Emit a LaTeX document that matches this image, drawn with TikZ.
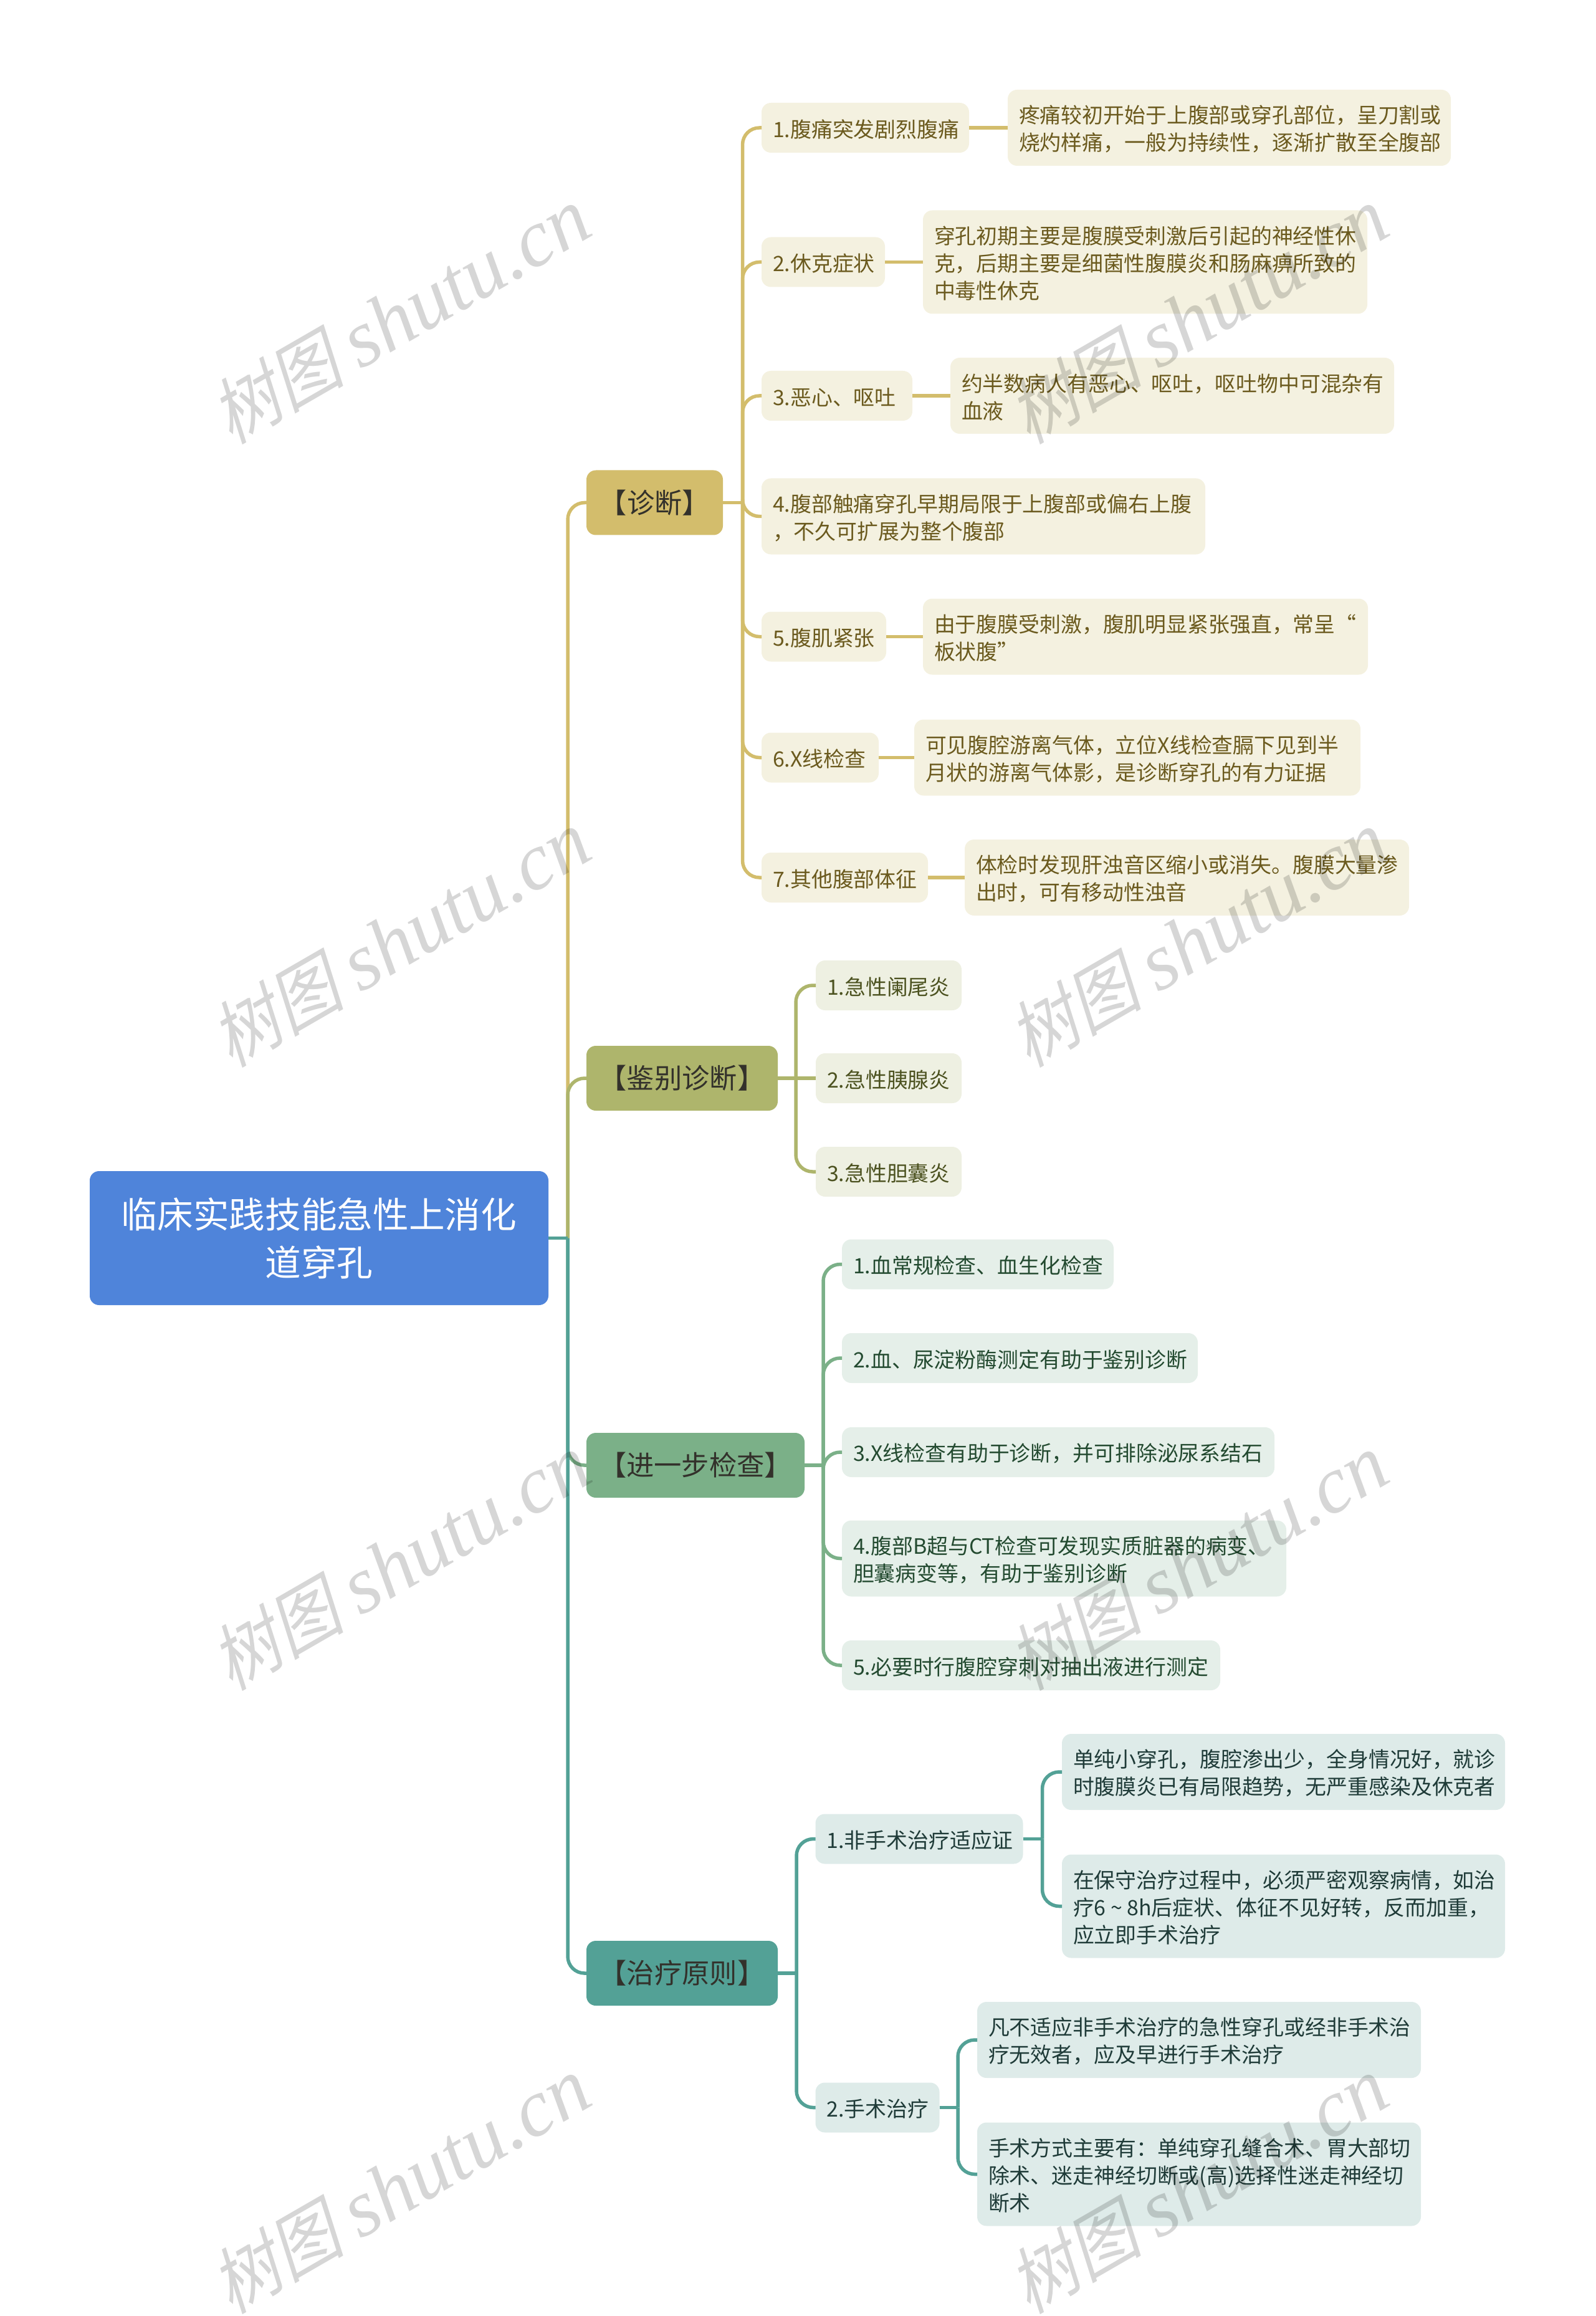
\documentclass[tikz,border=0pt]{standalone}
\usepackage{fontspec}
\setmainfont{Noto Sans CJK SC}
\newfontfamily\markcjk[FakeSlant=0.22,FakeStretch=0.92]{Noto Sans CJK SC}
\newfontfamily\marklatin{Liberation Serif}
\usepackage{tikz}
\usetikzlibrary{positioning}
\definecolor{rootblue}{HTML}{4F84DA}
\definecolor{diagline}{HTML}{D3BD6C}
\definecolor{diagfill}{HTML}{F4F1E0}
\definecolor{diagtext}{HTML}{6B5A1E}
\definecolor{diffline}{HTML}{AEB56C}
\definecolor{difffill}{HTML}{EEF0E2}
\definecolor{difftext}{HTML}{4C5220}
\definecolor{examline}{HTML}{7BB088}
\definecolor{examfill}{HTML}{E5EFE9}
\definecolor{examtext}{HTML}{234A30}
\definecolor{treatline}{HTML}{53A196}
\definecolor{treatfill}{HTML}{DEEBE9}
\definecolor{treattext}{HTML}{1F3B38}
\definecolor{topictext}{HTML}{33312B}
\tikzset{topic/.style = {rounded corners = .15cm, anchor = west, outer sep = 0, inner sep = 0, minimum height = 1.04cm, text = topictext, font = \fontsize{12.6}{15}\selectfont}}
\tikzset{sub/.style = {rounded corners = .15cm, anchor = west, outer sep = 0, inner xsep = .18cm, inner ysep = 0, align = left, minimum height = .8cm, font = \fontsize{9.64}{12.5}\selectfont, execute at begin node = {\rule{0pt}{9.4pt}}}}
\tikzset{diagsub/.style = {sub, fill = diagfill, text = diagtext}}
\tikzset{diffsub/.style = {sub, fill = difffill, text = difftext}}
\tikzset{examsub/.style = {sub, fill = examfill, text = examtext}}
\tikzset{treatsub/.style = {sub, fill = treatfill, text = treattext}}
\tikzset{two/.style = {minimum height = 1.22cm}}
\tikzset{three/.style = {minimum height = 1.66cm}}
\tikzset{link/.style = {line width = .055cm, rounded corners = .27cm}}
\begin{document}
\begin{tikzpicture}[x = 1cm, y = -1cm]
      \useasboundingbox (0, 0) rectangle (25.6, 37.16);
      % root and the four topics
      \node [fill = rootblue, text = white, rounded corners = .15cm, anchor = west, outer sep = 0, inner sep = 0, minimum width = 7.36cm, minimum height = 2.15cm, align = center, font = \fontsize{16.4}{21.9}\selectfont] (root) at (1.44, 19.865) {临床实践技能急性上消化\\道穿孔};
      \node [topic, fill = diagline, minimum width = 2.19cm] (diag) at (9.41, 8.065) {【诊断】};
      \node [topic, fill = diffline, minimum width = 3.07cm] (diff) at (9.41, 17.3) {【鉴别诊断】};
      \node [topic, fill = examline, minimum width = 3.5cm] (exam) at (9.41, 23.51) {【进一步检查】};
      \node [topic, fill = treatline, minimum width = 3.07cm] (treat) at (9.41, 31.66) {【治疗原则】};
      \coordinate (trunk) at (9.11, 19.865);
      \draw [link, diagline] (trunk) |- (diag.west);
      \draw [link, diffline] (trunk) |- (diff.west);
      \draw [link, examline] (trunk) |- (exam.west);
      \draw [link, treatline] (trunk) |- (treat.west);
      \draw [link, treatline] (root.east) -- (trunk);
      % diagnosis
      \node [diagsub, text width = 2.97cm] (d1) at (12.22, 2.05) {1.腹痛突发剧烈腹痛};
      \node [diagsub, two, text width = 6.75cm] (e1) at (16.17, 2.05) {疼痛较初开始于上腹部或穿孔部位，呈刀割或\\烧灼样痛，一般为持续性，逐渐扩散至全腹部};
      \node [diagsub, text width = 1.62cm] (d2) at (12.22, 4.205) {2.休克症状};
      \node [diagsub, three, text width = 6.77cm] (e2) at (14.81, 4.205) {穿孔初期主要是腹膜受刺激后引起的神经性休\\克，后期主要是细菌性腹膜炎和肠麻痹所致的\\中毒性休克};
      \node [diagsub, text width = 2.06cm] (d3) at (12.22, 6.35) {3.恶心、呕吐};
      \node [diagsub, two, text width = 6.76cm] (e3) at (15.25, 6.35) {约半数病人有恶心、呕吐，呕吐物中可混杂有\\血液};
      \node [diagsub, two, text width = 6.76cm] (d4) at (12.22, 8.285) {4.腹部触痛穿孔早期局限于上腹部或偏右上腹\\，不久可扩展为整个腹部};
      \node [diagsub, text width = 1.64cm] (d5) at (12.22, 10.215) {5.腹肌紧张};
      \node [diagsub, two, text width = 6.78cm] (e5) at (14.81, 10.215) {由于腹膜受刺激，腹肌明显紧张强直，常呈“\\板状腹”};
      \node [diagsub, text width = 1.52cm] (d6) at (12.22, 12.155) {6.X线检查};
      \node [diagsub, two, text width = 6.8cm] (e6) at (14.67, 12.155) {可见腹腔游离气体，立位X线检查膈下见到半\\月状的游离气体影，是诊断穿孔的有力证据};
      \node [diagsub, text width = 2.31cm] (d7) at (12.22, 14.08) {7.其他腹部体征};
      \node [diagsub, two, text width = 6.77cm] (e7) at (15.48, 14.08) {体检时发现肝浊音区缩小或消失。腹膜大量渗\\出时，可有移动性浊音};
      \coordinate (diagbus) at (11.915, 8.065);
      \draw [link, diagline] (diag.east) -- (diagbus);
      \draw [link, diagline] (diagbus) |- (d1.west);
      \draw [link, diagline] (diagbus) |- (d2.west);
      \draw [link, diagline] (diagbus) |- (d3.west);
      \draw [link, diagline] (diagbus) |- (d4.west);
      \draw [link, diagline] (diagbus) |- (d5.west);
      \draw [link, diagline] (diagbus) |- (d6.west);
      \draw [link, diagline] (diagbus) |- (d7.west);
      \draw [link, diagline] (d1) -- (e1);
      \draw [link, diagline] (d2) -- (e2);
      \draw [link, diagline] (d3) -- (e3);
      \draw [link, diagline] (d5) -- (e5);
      \draw [link, diagline] (d6) -- (e6);
      \draw [link, diagline] (d7) -- (e7);
      % differential
      \node [diffsub, text width = 1.98cm] (f1) at (13.09, 15.81) {1.急性阑尾炎};
      \node [diffsub, text width = 1.98cm] (f2) at (13.09, 17.3) {2.急性胰腺炎};
      \node [diffsub, text width = 1.98cm] (f3) at (13.09, 18.8) {3.急性胆囊炎};
      \coordinate (diffbus) at (12.77, 17.3);
      \draw [link, diffline] (diff.east) -- (diffbus);
      \draw [link, diffline] (diffbus) |- (f1.west);
      \draw [link, diffline] (diffbus) |- (f3.west);
      \draw [link, diffline] (diffbus) -- (f2.west);
      % further exams
      \node [examsub, text width = 4cm] (x1) at (13.51, 20.285) {1.血常规检查、血生化检查};
      \node [examsub, text width = 5.35cm] (x2) at (13.51, 21.79) {2.血、尿淀粉酶测定有助于鉴别诊断};
      \node [examsub, text width = 6.58cm] (x3) at (13.51, 23.3) {3.X线检查有助于诊断，并可排除泌尿系结石};
      \node [examsub, two, text width = 6.77cm] (x4) at (13.51, 25.005) {4.腹部B超与CT检查可发现实质脏器的病变、\\胆囊病变等，有助于鉴别诊断};
      \node [examsub, text width = 5.71cm] (x5) at (13.51, 26.72) {5.必要时行腹腔穿刺对抽出液进行测定};
      \coordinate (exambus) at (13.21, 23.51);
      \draw [link, examline] (exam.east) -- (exambus);
      \draw [link, examline] (exambus) |- (x1.west);
      \draw [link, examline] (exambus) |- (x2.west);
      \draw [link, examline] (exambus) |- (x3.west);
      \draw [link, examline] (exambus) |- (x4.west);
      \draw [link, examline] (exambus) |- (x5.west);
      % treatment
      \node [treatsub, text width = 2.97cm] (t1) at (13.085, 29.505) {1.非手术治疗适应证};
      \node [treatsub, two, text width = 6.75cm] (u1) at (17.04, 28.43) {单纯小穿孔，腹腔渗出少，全身情况好，就诊\\时腹膜炎已有局限趋势，无严重感染及休克者};
      \node [treatsub, three, text width = 6.75cm] (u2) at (17.04, 30.585) {在保守治疗过程中，必须严密观察病情，如治\\疗6\makebox[1em][c]{\textasciitilde}8h后症状、体征不见好转，反而加重，\\应立即手术治疗};
      \node [treatsub, text width = 1.63cm] (t2) at (13.085, 33.815) {2.手术治疗};
      \node [treatsub, two, text width = 6.76cm] (u3) at (15.68, 32.73) {凡不适应非手术治疗的急性穿孔或经非手术治\\疗无效者，应及早进行手术治疗};
      \node [treatsub, three, text width = 6.76cm] (u4) at (15.68, 34.885) {手术方式主要有：单纯穿孔缝合术、胃大部切\\除术、迷走神经切断或(高)选择性迷走神经切\\断术};
      \coordinate (treatbus) at (12.78, 31.66);
      \coordinate (t1bus) at (16.725, 29.505);
      \coordinate (t2bus) at (15.37, 33.815);
      \draw [link, treatline] (treat.east) -- (treatbus);
      \draw [link, treatline] (treatbus) |- (t1.west);
      \draw [link, treatline] (treatbus) |- (t2.west);
      \draw [link, treatline] (t1.east) -- (t1bus);
      \draw [link, treatline] (t1bus) |- (u1.west);
      \draw [link, treatline] (t1bus) |- (u2.west);
      \draw [link, treatline] (t2.east) -- (t2bus);
      \draw [link, treatline] (t2bus) |- (u3.west);
      \draw [link, treatline] (t2bus) |- (u4.west);
      % watermark
      \foreach \col/\mx in {a/6.42, b/19.22}
        \foreach \row/\my in {1/5.06, 2/15.06, 3/25.06, 4/35.06}
          \node [rotate = 30, text = black, text opacity = .16, font = \fontsize{33}{36}\selectfont] (mark\col\row) at (\mx, \my) {{\markcjk 树图} {\marklatin\itshape\fontsize{37}{37}\selectfont shutu.cn}};
    \end{tikzpicture}
\end{document}
